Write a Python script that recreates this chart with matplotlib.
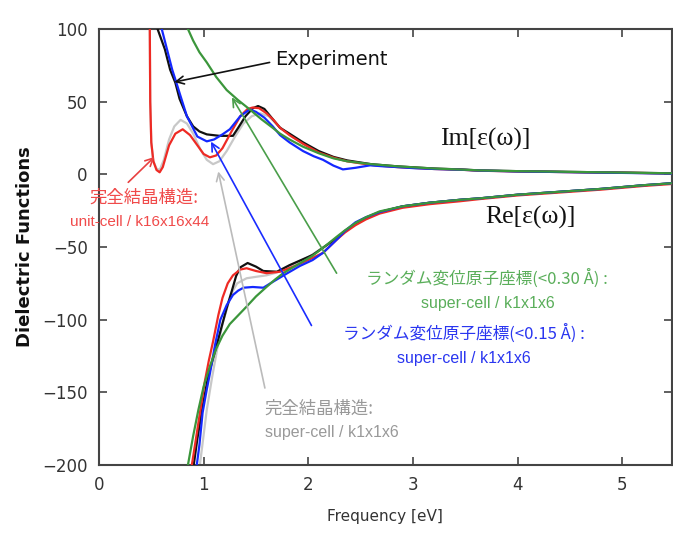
import matplotlib
matplotlib.use("Agg")
import matplotlib.pyplot as plt

# ---------------- data ----------------
# Im parts
im_exp_x = [0.55, 0.56, 0.63, 0.68, 0.73, 0.77, 0.84, 0.90, 0.96, 1.03, 1.15, 1.28, 1.33, 1.40, 1.47, 1.52, 1.58, 1.66, 1.73, 1.82, 1.95, 2.10, 2.24, 2.37, 2.60, 2.85, 3.20, 3.45, 3.64, 4.00, 4.50, 5.00, 5.50]
im_exp_y = [104, 100, 86, 72, 63, 52, 40, 33, 29.5, 27.5, 26.5, 26.5, 32, 40, 45.5, 47, 45, 38, 32, 28, 22, 16, 12, 9.6, 7, 5.5, 4, 3.4, 2.7, 2.2, 1.7, 1.2, 0.7]

im_uc_x = [0.485, 0.49, 0.50, 0.52, 0.55, 0.58, 0.61, 0.67, 0.73, 0.80, 0.87, 0.94, 1.00, 1.06, 1.12, 1.18, 1.27, 1.35, 1.42, 1.47, 1.53, 1.60, 1.66, 1.73, 1.82, 1.95, 2.10, 2.24, 2.37, 2.60, 2.85, 3.20, 3.45, 3.64, 4.00, 4.50, 5.00, 5.50]
im_uc_y = [110, 50, 22, 9, 3, 1.4, 5, 20, 28, 31, 27, 20, 14, 11.7, 13, 18, 30, 40, 45, 46, 45.5, 42, 38, 32, 27, 21, 15, 11.5, 9, 6.5, 5, 3.7, 3.2, 2.5, 2.0, 1.5, 1.1, 0.6]

im_sc_x = [0.485, 0.49, 0.50, 0.52, 0.55, 0.58, 0.62, 0.67, 0.72, 0.78, 0.84, 0.90, 0.97, 1.03, 1.09, 1.15, 1.22, 1.30, 1.38, 1.46, 1.54, 1.62, 1.72, 1.82, 1.95, 2.10, 2.24, 2.37, 2.60, 2.85, 3.20, 3.45, 3.64, 4.00, 4.50, 5.00, 5.50]
im_sc_y = [110, 50, 22, 9, 4, 3, 10, 24, 33, 37.5, 35, 28, 17, 10, 7, 9, 16, 26, 35, 40, 42, 40, 33, 27, 21, 15, 11.5, 9, 6.5, 5, 3.7, 3.2, 2.5, 2.0, 1.5, 1.1, 0.6]

im_r15_x = [0.59, 0.60, 0.65, 0.70, 0.74, 0.77, 0.84, 0.94, 1.03, 1.10, 1.18, 1.25, 1.35, 1.44, 1.50, 1.58, 1.66, 1.73, 1.82, 1.95, 2.05, 2.14, 2.24, 2.33, 2.45, 2.59, 2.72, 2.85, 3.00, 3.20, 3.45, 3.64, 4.00, 4.50, 5.00, 5.50]
im_r15_y = [104, 100, 86, 72, 63, 56, 40, 26, 22.7, 24, 27.5, 31, 40, 44.7, 43, 39, 33, 27, 22, 16, 12.5, 10, 6, 3.4, 4.5, 6.2, 5.5, 5, 4.3, 3.7, 3.2, 2.6, 2.0, 1.5, 1.0, 0.5]

im_r30_x = [0.84, 0.85, 0.90, 0.96, 1.03, 1.12, 1.22, 1.33, 1.44, 1.55, 1.66, 1.73, 1.82, 1.95, 2.10, 2.24, 2.37, 2.60, 2.85, 3.20, 3.45, 3.64, 4.00, 4.50, 5.00, 5.50]
im_r30_y = [102, 100, 92, 84, 77, 67, 58, 51, 44.7, 38, 32, 28, 24, 19, 14.5, 11, 9, 7, 5.5, 4, 3.3, 2.7, 2.2, 1.7, 1.2, 0.7]

# Re parts
re_exp_x = [0.89, 0.94, 0.99, 1.04, 1.10, 1.16, 1.22, 1.27, 1.31, 1.35, 1.42, 1.50, 1.57, 1.70, 1.82, 2.04, 2.27, 2.35, 2.45, 2.55, 2.68, 2.90, 3.16, 3.45, 3.64, 4.00, 4.40, 4.80, 5.20, 5.50]
re_exp_y = [-208, -182, -160, -140, -124, -108, -92, -80, -70, -64, -61, -63.5, -66.5, -67, -62.5, -55.5, -44, -39, -34, -30, -26, -22, -19.5, -17.5, -16.5, -14, -12, -10, -7.5, -6]

re_uc_x = [0.87, 0.92, 0.965, 1.01, 1.05, 1.09, 1.14, 1.18, 1.23, 1.28, 1.35, 1.41, 1.50, 1.60, 1.73, 1.89, 2.04, 2.14, 2.27, 2.35, 2.45, 2.55, 2.68, 2.90, 3.16, 3.45, 3.64, 4.00, 4.40, 4.80, 5.20, 5.50]
re_uc_y = [-208, -185, -164, -143, -128, -115, -97, -85, -75, -69.5, -65.5, -64.6, -66.5, -68, -67, -62.5, -57.5, -54, -45, -40, -35, -31, -27, -23, -20.5, -18.5, -17, -14.5, -12.5, -10.5, -8, -6.5]

re_sc_x = [0.95, 0.99, 1.03, 1.08, 1.13, 1.18, 1.24, 1.28, 1.32, 1.41, 1.50, 1.60, 1.70, 1.82, 2.00, 2.27, 2.35, 2.45, 2.55, 2.68, 2.90, 3.16, 3.45, 3.64, 4.00, 4.40, 4.80, 5.20, 5.50]
re_sc_y = [-208, -185, -162, -140, -120, -103, -88, -80, -75, -71.5, -70.5, -69.5, -67.5, -63, -57, -44, -39, -34, -30, -26, -22, -19.5, -17.5, -16.5, -14, -12, -10, -7.5, -6]

re_r15_x = [0.92, 0.96, 0.99, 1.03, 1.06, 1.11, 1.16, 1.22, 1.28, 1.33, 1.38, 1.47, 1.57, 1.66, 1.80, 1.92, 2.04, 2.14, 2.27, 2.35, 2.45, 2.55, 2.68, 2.90, 3.16, 3.45, 3.64, 4.00, 4.40, 4.80, 5.20, 5.50]
re_r15_y = [-208, -186, -164, -148, -137, -117, -100, -90, -83, -80, -78, -77.5, -78, -74, -68, -63, -59, -54, -45, -39, -33, -29.5, -26, -22, -19.5, -17.5, -16.5, -14, -12, -10, -7.5, -6]

re_r30_x = [0.85, 0.90, 0.95, 1.00, 1.06, 1.12, 1.18, 1.25, 1.33, 1.41, 1.50, 1.60, 1.68, 1.76, 1.90, 2.04, 2.15, 2.27, 2.35, 2.45, 2.55, 2.68, 2.90, 3.16, 3.45, 3.64, 4.00, 4.40, 4.80, 5.20, 5.50]
re_r30_y = [-200, -180, -162, -146, -132, -120, -111, -103, -97, -91, -84, -77.5, -72.5, -68, -62, -56, -50, -43, -38.5, -33.5, -29.5, -25.5, -22, -19.5, -17.5, -16.5, -14, -12, -10, -7.5, -6]

x_ticks = [0, 1, 2, 3, 4, 5]
y_ticks = [-200, -150, -100, -50, 0, 50, 100]

C_BLACK = "#111111"
C_RED = "#ee2a24"
C_GRAY = "#c8c8c8"
C_BLUE = "#1428ff"
C_GREEN = "#3b963b"

JP = ["Noto Sans CJK JP", "DejaVu Sans"]
LAT = ["Liberation Sans", "DejaVu Sans"]

fig = plt.figure(figsize=(6.73, 5.37), dpi=100)
ax = fig.add_axes([0.147, 0.134, 0.851, 0.812])

lw = 1.6
for (xs, ys, c, z) in [
    (im_sc_x, im_sc_y, C_GRAY, 2), (re_sc_x, re_sc_y, C_GRAY, 2),
    (im_exp_x, im_exp_y, C_BLACK, 3), (re_exp_x, re_exp_y, C_BLACK, 3),
    (im_uc_x, im_uc_y, C_RED, 4), (re_uc_x, re_uc_y, C_RED, 4),
    (im_r15_x, im_r15_y, C_BLUE, 5), (re_r15_x, re_r15_y, C_BLUE, 5),
    (im_r30_x, im_r30_y, C_GREEN, 6), (re_r30_x, re_r30_y, C_GREEN, 6),
]:
    ax.plot(xs, ys, color=c, lw=lw, zorder=z, solid_capstyle="round", solid_joinstyle="round")

ax.set_xlim(0, 5.47)
ax.set_ylim(-200, 100)
ax.set_xticks(x_ticks)
ax.set_yticks(y_ticks)
ax.tick_params(direction="in", length=6, width=1.2, top=True, right=True,
               labelsize=12, colors="#444444", labelcolor="#333333", pad=8)
for s in ax.spines.values():
    s.set_color("#444444")
    s.set_linewidth(1.5)

ax.set_xlabel("Frequency [eV]", fontsize=11, color="#333333", labelpad=11)
ax.set_ylabel("Dielectric Functions", fontsize=13, fontweight="bold", color="#111111", labelpad=6)

def arrow(tail, head, color):
    ax.annotate("", xy=head, xytext=tail,
                arrowprops=dict(arrowstyle="->", color=color, lw=1.2,
                                mutation_scale=14, shrinkA=0, shrinkB=0), zorder=8)

arrow((1.63, 77), (0.72, 63.5), "#111111")
arrow((0.28, -5.5), (0.53, 12), "#e84040")
arrow((1.585, -147), (1.14, 2), "#bbbbbb")
arrow((2.03, -104), (1.07, 22.5), "#1a2cff")
arrow((2.27, -68), (1.27, 53), "#4a9e4a")

ax.text(1.68, 79, "Experiment", fontsize=14, color="#111111", ha="left", va="center")
ax.text(3.69, 24, "Im[ε(ω)]", fontsize=18.5, family="Liberation Serif", color="#111111", ha="center", va="center")
ax.text(4.12, -30, "Re[ε(ω)]", fontsize=18.5, family="Liberation Serif", color="#111111", ha="center", va="center")

ax.text(0.43, -16, "完全結晶構造:", fontsize=12.5, family=JP, color="#f04a4a", ha="center", va="center")
ax.text(0.39, -32.5, "unit-cell / k16x16x44", fontsize=11, family=LAT, color="#f04a4a", ha="center", va="center")

ax.text(3.71, -71.5, "ランダム変位原子座標(<0.30 Å) :", fontsize=12, family=JP, color="#5aae5a", ha="center", va="center")
ax.text(3.71, -89, "super-cell / k1x1x6", fontsize=11.5, family=LAT, color="#5aae5a", ha="center", va="center")

ax.text(3.49, -109, "ランダム変位原子座標(<0.15 Å) :", fontsize=12, family=JP, color="#2a36f0", ha="center", va="center")
ax.text(3.49, -126.5, "super-cell / k1x1x6", fontsize=11.5, family=LAT, color="#2a36f0", ha="center", va="center")

ax.text(1.585, -161, "完全結晶構造:", fontsize=12.5, family=JP, color="#999999", ha="left", va="center")
ax.text(1.585, -177.5, "super-cell / k1x1x6", fontsize=11.5, family=LAT, color="#999999", ha="left", va="center")

fig.savefig("out.png", dpi=100)
